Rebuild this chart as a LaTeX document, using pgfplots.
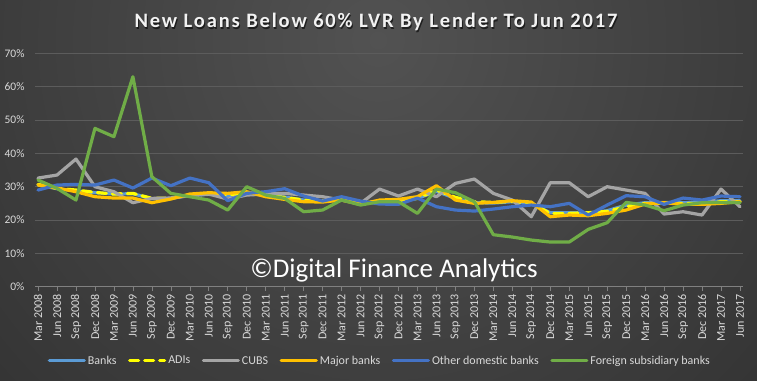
\documentclass[border=0pt]{standalone}
\usepackage{fontspec}
\setmainfont{Carlito}
\usepackage{pgfplots}
\pgfplotsset{compat=1.18}
\definecolor{bgin}{HTML}{525252}
\definecolor{bgout}{HTML}{232323}
\definecolor{tick}{HTML}{D9D9D9}
\definecolor{gridc}{HTML}{5C5C5C}
\definecolor{cBanks}{HTML}{5B9BD5}
\definecolor{cADI}{HTML}{FFFF00}
\definecolor{cCUBS}{HTML}{A5A5A5}
\definecolor{cMajor}{HTML}{FFC000}
\definecolor{cOther}{HTML}{4472C4}
\definecolor{cForeign}{HTML}{70AD47}
\begin{document}
\begin{tikzpicture}
\fill[bgout] (0,0) rectangle (757pt,380pt);
\begin{scope}
\clip (0,0) rectangle (757pt,380pt);
\shade[inner color=bgin, outer color=bgout] (378pt,340pt) circle (820pt);
\end{scope}
\useasboundingbox (0,0) rectangle (757pt,380pt);
\begin{axis}[
  at={(35pt,93.3pt)}, anchor=south west,
  scale only axis, width=708pt, height=233.3pt,
  xmin=-0.16, xmax=37.16, ymin=0, ymax=70,
  axis x line*=bottom, axis y line*=left,
  x axis line style={draw=gray, line width=0.8pt},
  y axis line style={draw=none},
  xtick={0,...,37},
  xticklabels={Mar 2008,Jun 2008,Sep 2008,Dec 2008,Mar 2009,Jun 2009,Sep 2009,Dec 2009,Mar 2010,Jun 2010,Sep 2010,Dec 2010,Mar 2011,Jun 2011,Sep 2011,Dec 2011,Mar 2012,Jun 2012,Sep 2012,Dec 2012,Mar 2013,Jun 2013,Sep 2013,Dec 2013,Mar 2014,Jun 2014,Sep 2014,Dec 2014,Mar 2015,Jun 2015,Sep 2015,Dec 2015,Mar 2016,Jun 2016,Sep 2016,Dec 2016,Mar 2017,Jun 2017},
  ytick={0,10,...,70},
  yticklabel={\pgfmathprintnumber{\tick}\%},
  /pgf/number format/assume math mode=true,
  tick align=outside,
  xtick style={draw=gray, line width=0.6pt},
  major tick length=4pt,
  ytick style={draw=none},
  x tick label style={rotate=90, anchor=east, font=\fontsize{12}{13}\selectfont, text=tick},
  y tick label style={font=\fontsize{11.5}{13}\selectfont, text=tick, xshift=-3pt},
  ymajorgrids, major grid style={draw=gridc, line width=0.8pt},
  every axis plot/.append style={line width=3.2pt, line join=round, line cap=round},
  legend columns=6,
  legend style={at={(0.487,-0.318)}, anchor=center, draw=none, fill=none,
    font=\fontsize{12}{14}\selectfont, text=tick,
    /tikz/every even column/.append style={column sep=9.5pt}},
  legend image code/.code={\draw[#1] (0pt,0pt) -- (35pt,0pt);},
]
\addplot[cBanks] coordinates {(0,30.5)(1,29.4)(2,28.8)(3,28.2)(4,27.8)(5,27.9)(6,26.4)(7,26.5)(8,27.4)(9,27.7)(10,27.3)(11,28.2)(12,27.3)(13,26.9)(14,26)(15,25.7)(16,26.1)(17,25)(18,25.5)(19,25.7)(20,26.5)(21,28.6)(22,26.5)(23,25.2)(24,25.1)(25,25.5)(26,25)(27,22.2)(28,22.2)(29,22.1)(30,22.8)(31,24.5)(32,25.2)(33,25.3)(34,25.2)(35,25.3)(36,25.8)(37,25.8)};
\addlegendentry{Banks}
\addplot[cADI, dash pattern=on 9pt off 6pt] coordinates {(0,30.7)(1,29.5)(2,29)(3,28.3)(4,27.8)(5,28)(6,26.5)(7,26.6)(8,27.5)(9,27.8)(10,27.5)(11,28.3)(12,27.3)(13,26.8)(14,26)(15,25.8)(16,26)(17,25)(18,25.6)(19,25.8)(20,26.5)(21,29)(22,26.8)(23,25.5)(24,25.3)(25,25.6)(26,25)(27,22)(28,22)(29,22.2)(30,22.6)(31,24)(32,25)(33,25)(34,25)(35,25)(36,25.5)(37,25.5)};
\addlegendentry{ADIs}
\addplot[cCUBS] coordinates {(0,32.6)(1,33.5)(2,38.3)(3,30)(4,28.5)(5,25.2)(6,26.5)(7,26.6)(8,27.3)(9,27.8)(10,26.3)(11,27.5)(12,27.8)(13,28)(14,27.5)(15,27)(16,26)(17,25)(18,29.3)(19,27.2)(20,29.3)(21,27)(22,31)(23,32.3)(24,28)(25,26)(26,21)(27,31.2)(28,31.2)(29,27)(30,30)(31,29)(32,28)(33,21.8)(34,22.5)(35,21.5)(36,29.3)(37,24)};
\addlegendentry{CUBS}
\addplot[cMajor] coordinates {(0,30.5)(1,29.6)(2,28.5)(3,27)(4,26.6)(5,26.6)(6,25.2)(7,26.3)(8,27.8)(9,28.2)(10,28)(11,28.5)(12,27)(13,26.2)(14,25.5)(15,25.4)(16,26)(17,24.7)(18,26)(19,26.2)(20,27)(21,30.3)(22,26)(23,25)(24,25.3)(25,25.8)(26,25.4)(27,21)(28,21.5)(29,21.3)(30,22)(31,23)(32,24.8)(33,25.2)(34,24.7)(35,24.7)(36,25)(37,25.5)};
\addlegendentry{Major banks}
\addplot[cOther] coordinates {(0,29)(1,30.5)(2,30.7)(3,30.5)(4,32)(5,29.6)(6,32.6)(7,30.3)(8,32.6)(9,31.2)(10,25.8)(11,28)(12,28.5)(13,29.4)(14,27.2)(15,25.7)(16,27)(17,25.7)(18,24.8)(19,24.7)(20,26.6)(21,24)(22,23)(23,22.7)(24,23.3)(25,24)(26,24.5)(27,24)(28,25)(29,21.5)(30,24.5)(31,27.3)(32,27)(33,24.7)(34,26.6)(35,26)(36,27.2)(37,27)};
\addlegendentry{Other domestic banks}
\addplot[cForeign] coordinates {(0,32)(1,29.5)(2,26)(3,47.5)(4,45)(5,63)(6,33)(7,28)(8,27)(9,26)(10,23)(11,30)(12,27.5)(13,26.5)(14,22.5)(15,23)(16,26)(17,24.5)(18,25.5)(19,25.5)(20,22)(21,29.3)(22,28.2)(23,25.5)(24,15.6)(25,14.9)(26,14)(27,13.4)(28,13.4)(29,17.2)(30,19.2)(31,25.3)(32,24.5)(33,22.8)(34,24.5)(35,25.2)(36,25.3)(37,25.2)};
\addlegendentry{Foreign subsidiary banks}
\end{axis}
\node[text=black, opacity=0.6, font=\addfontfeatures{LetterSpace=9}\fontsize{20.5}{24}\selectfont\bfseries] at (377pt,356.5pt) {New Loans Below 60\% LVR By Lender To Jun 2017};
\node[text=white!95!black, font=\addfontfeatures{LetterSpace=9}\fontsize{20.5}{24}\selectfont\bfseries] at (376pt,358pt) {New Loans Below 60\% LVR By Lender To Jun 2017};
\node[text=white, font=\fontsize{27}{30}\selectfont] at (394pt,110pt) {©Digital Finance Analytics};
\end{tikzpicture}
\end{document}
